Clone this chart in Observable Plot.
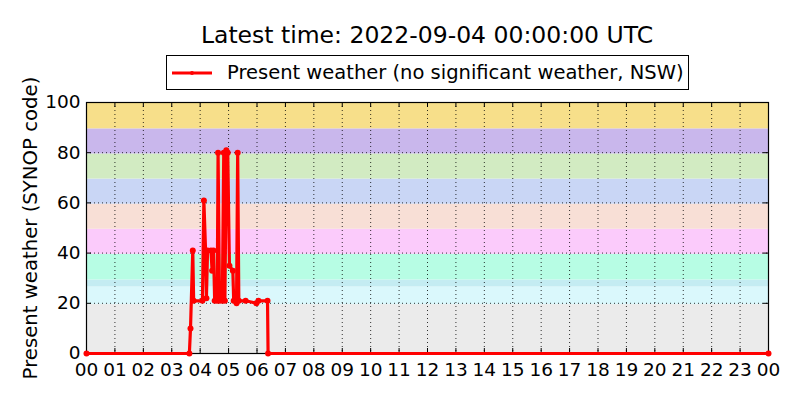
<!DOCTYPE html>
<html>
<head>
<meta charset="utf-8">
<script src="https://cdn.jsdelivr.net/npm/d3@7"></script>
<script src="https://cdn.jsdelivr.net/npm/@observablehq/plot@0.6"></script>
<style>
  body { margin: 0; background: white; }
  #wrap { position: relative; width: 800px; height: 400px; font-family: "DejaVu Sans", sans-serif; color: black; }
  #title { position: absolute; left: 86px; width: 682px; top: 24px; text-align: center; font-size: 23.5px; line-height: 1; white-space: nowrap; }
  #legend { position: absolute; left: 166px; top: 55px; width: 521px; height: 33px; border: 1px solid black; background: white; display: flex; align-items: center; white-space: nowrap; font-size: 19.5px; }
  #legend svg { margin-left: 5px; margin-right: 15px; }
  #ylabel { position: absolute; left: 30px; top: 228px; transform: translate(-50%, -50%) rotate(-90deg); white-space: nowrap; font-size: 19.7px; }
  #chart { position: absolute; left: 0; top: 0; }
</style>
</head>
<body>
<div id="wrap">
  <div id="chart"></div>
  <div id="title">Latest time: 2022-09-04 00:00:00 UTC</div>
  <div id="legend"><svg width="40" height="10"><line x1="0" y1="5" x2="40" y2="5" stroke="red" stroke-width="3"/><circle cx="20" cy="5" r="2" fill="red"/></svg><span>Present weather (no significant weather, NSW)</span></div>
  <div id="ylabel">Present weather (SYNOP code)</div>
</div>
<script>
// x axis: hours since 2022-09-03 00:00 UTC
const xDomain = [0, 24];
const xTicks = d3.range(0, 25);
const yDomain = [0, 100];
const yTicks = [0, 20, 40, 60, 80, 100];

// SYNOP code background bands
const bandLow  = [0, 19.5, 26.5, 29.3, 39.5, 49.5, 59.5, 69.5, 79.5, 89.5];
const bandHigh = [19.5, 26.5, 29.3, 39.5, 49.5, 59.5, 69.5, 79.5, 89.5, 100];
const bandColors = ["#ebebeb", "#daf8fc", "#c4ecf2", "#b7fde4", "#fbcbfb", "#f8dfd6", "#c9d6f5", "#d2ebc2", "#c9b7ec", "#f7df8a"];

// Present weather observations
const weatherHours = [0, 3.62, 3.66, 3.74, 3.77, 4.08, 4.13, 4.19, 4.22, 4.26, 4.38, 4.42, 4.47, 4.51, 4.60, 4.63, 4.68, 4.78, 4.83, 4.87, 4.92, 4.97, 5.03, 5.15, 5.18, 5.28, 5.32, 5.36, 5.60, 5.98, 6.05, 6.37, 6.39, 24];
const weatherCodes = [0, 0, 10, 41, 21, 21, 61, 41, 22, 41, 41, 33, 41, 21, 21, 80, 21, 21, 80, 21, 81, 80, 35, 33, 21, 20, 80, 21, 21, 20, 21, 21, 0, 0];

const bands = bandLow.map((lo, i) => ({lo, hi: bandHigh[i], color: bandColors[i]}));
const points = weatherHours.map((h, i) => ({h, v: weatherCodes[i]}));

const plotW = 800 - 86 - 32;
const plotH = 400 - 102 - 47;

const chart = Plot.plot({
  width: 800,
  height: 400,
  marginTop: 102,
  marginBottom: 47,
  marginLeft: 86,
  marginRight: 32,
  style: {fontFamily: "DejaVu Sans", fontSize: "18.5px", color: "black", background: "transparent", overflow: "visible"},
  x: {domain: xDomain, label: null},
  y: {domain: yDomain, label: null},
  color: {type: "identity"},
  marks: [
    Plot.rect(bands, {x1: () => xDomain[0], x2: () => xDomain[1], y1: "lo", y2: "hi", fill: "color"}),
    Plot.gridX(xTicks, {stroke: "black", strokeOpacity: 1, strokeWidth: 0.8, strokeDasharray: "1,3"}),
    Plot.gridY(yTicks, {stroke: "black", strokeOpacity: 1, strokeWidth: 0.8, strokeDasharray: "1,3"}),
    Plot.tickX(xTicks, {x: d => d, stroke: "black", insetTop: plotH - 5}),
    Plot.tickX(xTicks, {x: d => d, stroke: "black", insetBottom: plotH - 5}),
    Plot.tickY(yTicks, {y: d => d, stroke: "black", insetRight: plotW - 5}),
    Plot.tickY(yTicks, {y: d => d, stroke: "black", insetLeft: plotW - 5}),
    Plot.axisX(xTicks, {tickSize: 0, tickPadding: 9, tickFormat: d => String(d % 24).padStart(2, "0"), label: null, fontSize: 18.5}),
    Plot.axisY(yTicks, {tickSize: 0, tickPadding: 6, label: null, fontSize: 18.5}),
    Plot.frame({stroke: "black", strokeWidth: 1.2}),
    Plot.line(points, {x: "h", y: "v", stroke: "red", strokeWidth: 3.2}),
    Plot.dot(points, {x: "h", y: "v", fill: "red", r: 3})
  ]
});
document.getElementById("chart").appendChild(chart);
</script>
</body>
</html>
